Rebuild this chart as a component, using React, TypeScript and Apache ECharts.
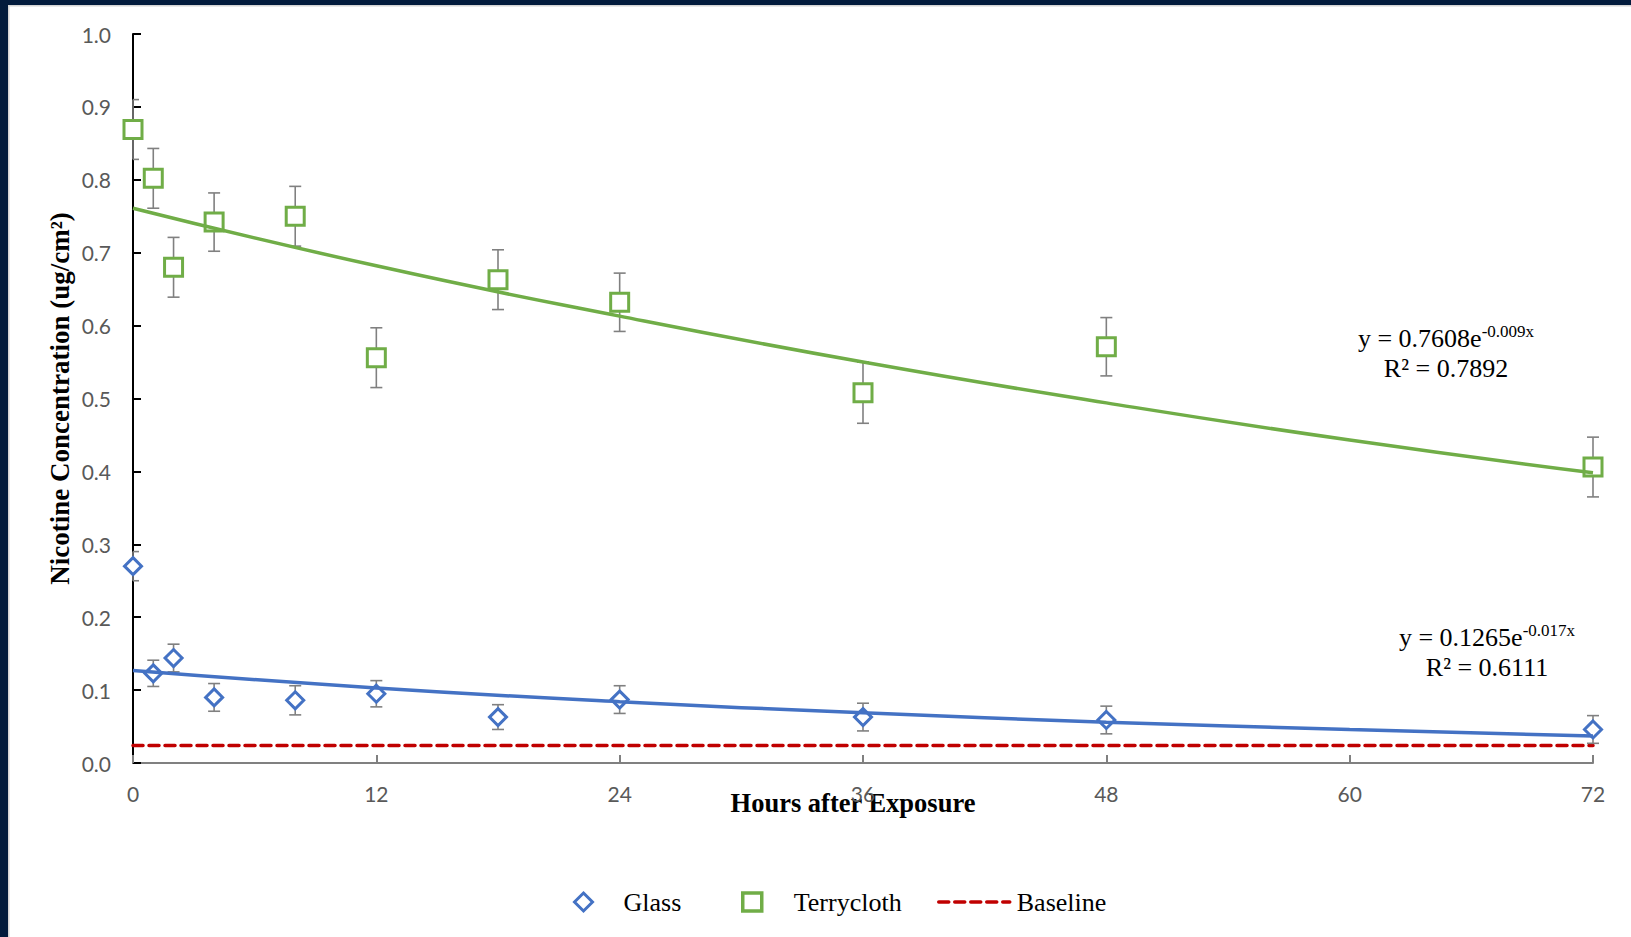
import React, { useEffect, useRef } from "react";
import * as echarts from "echarts";

// ---- data ----
const hours = [0, 1, 2, 4, 8, 12, 18, 24, 36, 48, 72];
const terrycloth = [0.869, 0.802, 0.68, 0.742, 0.75, 0.556, 0.663, 0.632, 0.508, 0.571, 0.406];
const terryclothErr = [0.041, 0.041, 0.041, 0.04, 0.041, 0.041, 0.041, 0.04, 0.042, 0.04, 0.041];
const glass = [0.27, 0.123, 0.144, 0.09, 0.086, 0.095, 0.063, 0.087, 0.063, 0.059, 0.046];
const glassErr = [0.02, 0.018, 0.019, 0.019, 0.02, 0.018, 0.017, 0.019, 0.019, 0.019, 0.019];
const trendHours = [0, 12, 24, 36, 48, 60, 72];
const terryclothTrend = [0.761, 0.682, 0.613, 0.55, 0.494, 0.443, 0.398];
const glassTrend = [0.127, 0.103, 0.084, 0.069, 0.056, 0.046, 0.037];
const baselineHours = [0, 72];
const baseline = [0.024, 0.024];
const xTicks = [0, 12, 24, 36, 48, 60, 72];
const yTicks = [0, 0.1, 0.2, 0.3, 0.4, 0.5, 0.6, 0.7, 0.8, 0.9, 1.0];
const terryEq = { main: "y = 0.7608e", sup: "-0.009x", r2: "R² = 0.7892" };
const glassEq = { main: "y = 0.1265e", sup: "-0.017x", r2: "R² = 0.6111" };

const GREEN = "#70AD47";
const BLUE = "#4472C4";
const RED = "#C00000";
const NAVY = "#021b3c";
const SERIF = "'Liberation Serif', 'Times New Roman', serif";
const SANS = "Lato, 'Open Sans', sans-serif";

function errorRender(params: any, api: any) {
  const x = api.value(0);
  const lo = api.value(1);
  const hi = api.value(2);
  const top = api.coord([x, hi]);
  const bot = api.coord([x, lo]);
  const leftEdge = api.coord([xTicks[0], lo])[0];
  const w = 6;
  const l = Math.max(top[0] - w, leftEdge);
  const st = { stroke: "#808080", lineWidth: 1.6 };
  return {
    type: "group",
    children: [
      { type: "line", shape: { x1: top[0], y1: top[1], x2: bot[0], y2: bot[1] }, style: st },
      { type: "line", shape: { x1: l, y1: top[1], x2: top[0] + w, y2: top[1] }, style: st },
      { type: "line", shape: { x1: l, y1: bot[1], x2: bot[0] + w, y2: bot[1] }, style: st },
    ],
  };
}

function eqText(x: number, y: number, eq: { main: string; sup: string; r2: string }) {
  return [
    {
      type: "text",
      x,
      y,
      z: 100,
      style: {
        text: `{m|${eq.main}}{s|${eq.sup}}`,
        align: "center",
        verticalAlign: "middle",
        rich: {
          m: { fontSize: 26, fontFamily: SERIF, fill: "#000", lineHeight: 30 },
          s: { fontSize: 17, fontFamily: SERIF, fill: "#000", lineHeight: 18, verticalAlign: "top" },
        },
      },
    },
    {
      type: "text",
      x: x,
      y: y + 30,
      z: 100,
      style: {
        text: eq.r2,
        align: "center",
        verticalAlign: "middle",
        fontSize: 26,
        fontFamily: SERIF,
        fill: "#000",
      },
    },
  ];
}

const legendText = (padLeft: number) => ({
  fontFamily: SERIF,
  fontSize: 26,
  color: "#000",
  padding: [0, 0, 0, padLeft],
});

export default function App() {
  const ref = useRef<HTMLDivElement>(null);
  useEffect(() => {
    if (!ref.current) return;
    const chart = echarts.init(ref.current, null, { renderer: "svg" });
    const option: any = {
      animation: false,
      backgroundColor: "#ffffff",
      grid: { left: 133, right: 38, top: 34, bottom: 174 },
      xAxis: {
        type: "value",
        min: xTicks[0],
        max: xTicks[xTicks.length - 1],
        interval: 12,
        name: "Hours after Exposure",
        nameLocation: "middle",
        nameGap: 26,
        nameMoveOverlap: false,
        nameTextStyle: {
          fontFamily: SERIF,
          fontWeight: "bold",
          fontSize: 26.5,
          color: "#000",
          padding: [0, 20, 0, 0],
        },
        axisLine: { show: true, onZero: false, lineStyle: { color: "#808080", width: 2 } },
        axisTick: { show: true, inside: true, length: 8, lineStyle: { color: "#808080", width: 2 } },
        axisLabel: { margin: 20, fontFamily: SANS, fontSize: 21, color: "#595959" },
        splitLine: { show: false },
      },
      yAxis: {
        type: "value",
        min: yTicks[0],
        max: yTicks[yTicks.length - 1],
        interval: 0.1,
        name: "Nicotine Concentration (ug/cm²)",
        nameLocation: "middle",
        nameGap: 60,
        nameMoveOverlap: false,
        nameTextStyle: { fontFamily: SERIF, fontWeight: "bold", fontSize: 27, color: "#000" },
        axisLine: { show: true, onZero: false, lineStyle: { color: "#000", width: 2 } },
        axisTick: { show: true, inside: true, length: 8, lineStyle: { color: "#000", width: 2 } },
        axisLabel: {
          margin: 22,
          fontFamily: SANS,
          fontSize: 21,
          color: "#595959",
          formatter: (v: number) => v.toFixed(1),
        },
        splitLine: { show: false },
      },
      legend: [
        {
          data: ["Glass"],
          left: 568,
          top: 884,
          itemWidth: 18,
          itemHeight: 18,
          symbolKeepAspect: true,
          itemStyle: { borderWidth: 3, borderColor: BLUE, color: "#fff" },
          textStyle: legendText(26),
          selectedMode: false,
        },
        {
          data: ["Terrycloth"],
          left: 736,
          top: 884,
          itemWidth: 19,
          itemHeight: 18,
          symbolKeepAspect: true,
          itemStyle: { borderWidth: 3.5, borderColor: GREEN, color: "#fff" },
          textStyle: legendText(27),
          selectedMode: false,
        },
        {
          data: [
            {
              name: "Baseline",
              itemStyle: { color: "transparent", borderColor: "transparent", borderWidth: 0, opacity: 0 },
            },
          ],
          left: 932,
          top: 884,
          itemWidth: 71,
          itemHeight: 18,
          lineStyle: { width: 3.5, type: [10, 6], cap: "round", color: RED },
          textStyle: legendText(2),
          selectedMode: false,
        },
      ],
      series: [
        {
          name: "Baseline",
          type: "line",
          data: baselineHours.map((h, i) => [h, baseline[i]]),
          symbol: "none",
          lineStyle: { color: RED, width: 3.5, type: [10, 6], cap: "round" },
          itemStyle: { color: RED },
          z: 2,
        },
        {
          name: "Glass error",
          type: "custom",
          renderItem: errorRender,
          encode: { x: 0, y: [1, 2] },
          data: hours.map((h, i) => [h, glass[i] - glassErr[i], glass[i] + glassErr[i]]),
          z: 3,
        },
        {
          name: "Terrycloth error",
          type: "custom",
          renderItem: errorRender,
          encode: { x: 0, y: [1, 2] },
          data: hours.map((h, i) => [h, terrycloth[i] - terryclothErr[i], terrycloth[i] + terryclothErr[i]]),
          z: 3,
        },
        {
          name: "Glass",
          type: "scatter",
          symbol: "diamond",
          symbolSize: 17,
          data: hours.map((h, i) => [h, glass[i]]),
          itemStyle: { color: "#ffffff", borderColor: BLUE, borderWidth: 3, opacity: 1 },
          z: 4,
        },
        {
          name: "Terrycloth",
          type: "scatter",
          symbol: "rect",
          symbolSize: 18,
          data: hours.map((h, i) => [h, terrycloth[i]]),
          itemStyle: { color: "#ffffff", borderColor: GREEN, borderWidth: 3, opacity: 1 },
          z: 4,
        },
        {
          name: "Terrycloth trend",
          type: "line",
          smooth: true,
          symbol: "none",
          data: trendHours.map((h, i) => [h, terryclothTrend[i]]),
          lineStyle: { color: GREEN, width: 3.5 },
          z: 5,
        },
        {
          name: "Glass trend",
          type: "line",
          smooth: true,
          symbol: "none",
          data: trendHours.map((h, i) => [h, glassTrend[i]]),
          lineStyle: { color: BLUE, width: 3.5 },
          z: 5,
        },
      ],
      graphic: [
        { type: "rect", z: 200, shape: { x: 0, y: 0, width: 8, height: 937 }, style: { fill: NAVY } },
        { type: "rect", z: 200, shape: { x: 0, y: 0, width: 1631, height: 5 }, style: { fill: NAVY } },
        { type: "rect", z: 200, shape: { x: 8, y: 5, width: 1.5, height: 932 }, style: { fill: "#d4d4d4" } },
        { type: "rect", z: 200, shape: { x: 8, y: 5, width: 1623, height: 1.5 }, style: { fill: "#d4d4d4" } },
        ...eqText(1446, 338, terryEq),
        ...eqText(1487, 637, glassEq),
      ],
    };
    chart.setOption(option);
    return () => chart.dispose();
  }, []);
  return (
    <div
      ref={ref}
      style={{ position: "fixed", left: 0, top: 0, width: 1631, height: 937, background: "#fff" }}
    />
  );
}
